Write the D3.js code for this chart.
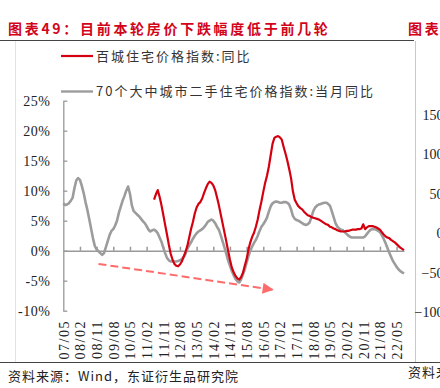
<!doctype html>
<html>
<head>
<meta charset="utf-8">
<title>图表49</title>
<script src="https://cdn.jsdelivr.net/npm/d3@7"></script>
<style>
  html, body { margin:0; padding:0; background:#fff; overflow:hidden }
  svg { display:block }
  .num { font-family: "Liberation Serif", "Times New Roman", serif; font-size:14px; fill:#222 }
  .cjk { font-family: "Noto Sans CJK SC", sans-serif; }
</style>
</head>
<body>
<div id="chart"></div>
<script>
// 70个大中城市二手住宅价格指数:当月同比 (%), monthly from 2007/05
var grayStart = "2007-05";
var grayValues = [
  7.9, 7.6, 7.7, 7.9, 8.3, 8.8, 10.4, 11.7, 12.1, 11.8, 10.8, 9.6,
  8.1, 6.8, 5.3, 3.7, 2.1, 0.8, 0.2, -0.1, -0.4, -0.7, -0.4, 0.6,
  1.6, 2.6, 3.3, 3.6, 4.2, 5.0, 6.3, 7.3, 8.3, 9.1, 10.0, 10.7,
  9.5, 7.6, 6.6, 6.3, 6.0, 5.7, 5.3, 4.9, 4.6, 4.1, 3.5, 3.2,
  3.4, 3.5, 3.3, 2.9, 2.2, 1.5, 0.5, -0.4, -1.2, -1.6, -1.8, -1.8,
  -1.8, -1.8, -1.7, -1.6, -1.4, -1.1, -0.5, 0.3, 0.9, 1.4, 2.0, 2.5,
  2.9, 3.2, 3.4, 3.6, 3.9, 4.3, 4.8, 5.0, 5.2, 5.0, 4.6, 4.0,
  3.5, 2.6, 1.6, 0.6, -0.5, -1.6, -2.5, -3.4, -4.1, -4.7, -5.1, -5.3,
  -4.8, -4.0, -3.1, -2.0, -0.9, 0.0, 0.7, 1.3, 1.8, 2.5, 3.3, 4.0,
  4.4, 4.9, 5.5, 6.5, 7.4, 7.9, 8.1, 8.2, 8.1, 8.0, 8.0, 8.1,
  8.1, 8.0, 7.7, 6.9, 5.8, 5.3, 5.1, 5.0, 4.8, 4.6, 4.4, 4.3,
  4.4, 4.7, 5.6, 6.6, 7.2, 7.5, 7.7, 7.8, 7.9, 8.0, 8.0, 7.8,
  7.5, 6.6, 5.6, 4.6, 4.0, 3.7, 3.5, 3.4, 3.1, 2.8, 2.5, 2.3,
  2.2, 2.2, 2.2, 2.2, 2.2, 2.2, 2.2, 2.4, 2.8, 3.2, 3.5, 3.6,
  3.6, 3.5, 3.3, 3.1, 2.6, 2.0, 1.3, 0.5, -0.3, -1.0, -1.7, -2.2,
  -2.7, -3.1, -3.4, -3.6, -3.8
];
// 百城住宅价格指数:同比 (%), monthly from 2011/06
var redStart = "2011-06";
var redValues = [
  8.5, 9.4, 10.1, 9.0, 7.6, 6.0, 4.3, 2.7, 1.0, -0.5, -1.5,
  -2.2, -2.5, -2.6, -2.3, -1.8, -1.0, -0.2, 0.8, 2.2, 3.6, 4.8, 6.2,
  7.2, 7.8, 8.1, 8.7, 9.6, 10.4, 11.1, 11.5, 11.3, 10.9, 10.1, 8.9,
  7.6, 6.1, 4.6, 3.1, 1.6, 0.0, -1.5, -2.8, -3.6, -4.2, -4.6, -4.8,
  -4.4, -3.7, -2.5, -1.4, 0.2, 1.4, 2.3, 3.0, 4.0, 5.2, 6.8, 8.2,
  9.8, 11.3, 12.5, 14.0, 15.9, 17.8, 18.8, 19.0, 19.1, 18.9, 18.5, 17.3,
  16.2, 15.0, 13.6, 12.1, 9.9, 8.5, 7.9, 7.4, 7.1, 6.9, 6.5, 6.2,
  5.9, 5.8, 5.6, 5.5, 5.4, 5.3, 5.2, 5.0, 4.8, 4.6, 4.4, 4.3,
  4.0, 3.9, 3.7, 3.6, 3.4, 3.3, 3.2, 3.2, 3.2, 3.3, 3.3, 3.4,
  3.5, 3.5, 3.5, 3.6, 3.6, 3.7, 4.4, 3.6, 3.9, 4.1, 4.1, 4.1,
  4.0, 3.9, 3.7, 3.5, 3.1, 2.7, 2.4, 2.2, 2.1, 1.8, 1.6, 1.4,
  1.1, 0.8, 0.5, 0.3, 0.1
];
var xLabels = ["07/05","08/02","08/11","09/08","10/05","11/02","11/11","12/08","13/05","14/02",
  "14/11","15/08","16/05","17/02","17/11","18/08","19/05","20/02","20/11","21/08","22/05"];
var yTicks = [-10, -5, 0, 5, 10, 15, 20, 25];
var seriesNames = ["百城住宅价格指数:同比", "70个大中城市二手住宅价格指数:当月同比"];
var seriesColors = ["#d40010", "#9c9c9c"];
// neighbouring chart, cut off at the right edge
var nextTicks = [150, 100, 50, 0, -50, -100];
// dashed trend arrow (category, value)
var trendFrom = ["08/12", -2.2];
var trendTo = ["16/10", -6.5];

var W = 440, H = 388;
var fmt = d3.timeFormat("%y/%m");
var parse = d3.timeParse("%Y-%m");

function months(start, n) {
  var s = parse(start);
  return d3.range(n).map(function(i) { return fmt(d3.timeMonth.offset(s, i)); });
}
var cats = months(grayStart, grayValues.length);
var grayData = cats.map(function(c, i) { return [c, grayValues[i]]; });
var redCats = months(redStart, redValues.length);
var redData = redCats.map(function(c, i) { return [c, redValues[i]]; });

var svg = d3.select("#chart").append("svg").attr("width", W).attr("height", H);

var x = d3.scalePoint().domain(cats).range([63.3, 404]);
var y = d3.scaleLinear().domain([-10, 25]).range([310.7, 100.7]);
var y2 = d3.scaleLinear().domain([-100, 150]).range([312, 115]);

// title
var titleStyle = function(t) {
  t.attr("class", "cjk").attr("font-size", 14).attr("font-weight", "bold")
   .attr("fill", "#d2041a").attr("letter-spacing", "2.7px");
};
svg.append("text").attr("x", 8).attr("y", 34).text("图表49：目前本轮房价下跌幅度低于前几轮").call(titleStyle);
svg.append("text").attr("x", 408).attr("y", 34).text("图表").call(titleStyle);

// frame lines
svg.append("line").attr("x1", 0).attr("x2", 414).attr("y1", 40.5).attr("y2", 40.5)
  .attr("stroke", "#444").attr("stroke-width", 1);
svg.append("line").attr("x1", 0).attr("x2", W).attr("y1", 362.5).attr("y2", 362.5)
  .attr("stroke", "#444").attr("stroke-width", 1);
svg.append("line").attr("x1", 415.5).attr("x2", 415.5).attr("y1", 41).attr("y2", 362)
  .attr("stroke", "#c8c8c8").attr("stroke-width", 1);
svg.append("line").attr("x1", 15.5).attr("x2", 15.5).attr("y1", 41).attr("y2", 362)
  .attr("stroke", "#e2e2e2").attr("stroke-width", 1);

// legend
var lg = svg.append("g");
seriesNames.forEach(function(name, i) {
  var ly = i === 0 ? 56 : 91.5;
  lg.append("line").attr("x1", 61).attr("x2", 93).attr("y1", ly).attr("y2", ly)
    .attr("stroke", seriesColors[i]).attr("stroke-width", i === 0 ? 2.2 : 2.4);
  lg.append("text").attr("class", "cjk").attr("x", 96).attr("y", ly).attr("dy", "0.36em")
    .attr("font-size", 13).attr("letter-spacing", "2px").attr("fill", "#333").text(name);
});

// left axis
var yAxis = svg.append("g").attr("transform", "translate(63.3,0)")
  .call(d3.axisLeft(y).tickValues(yTicks).tickSize(-4).tickSizeOuter(0).tickPadding(13)
    .tickFormat(function(d) { return d + "%"; }));
yAxis.selectAll("path, line").attr("stroke", "#999").attr("stroke-width", 1.3);
yAxis.selectAll("text").attr("class", "num").attr("font-size", null).attr("font-family", null)
  .attr("letter-spacing", "0.5px");

// zero line with upward ticks
var xAxis = svg.append("g").attr("transform", "translate(0," + y(0) + ")")
  .call(d3.axisBottom(x).tickValues(xLabels.slice(1)).tickSize(-4).tickSizeOuter(0).tickFormat(""));
xAxis.selectAll("path, line").attr("stroke", "#999").attr("stroke-width", 1.5);

// category labels, rotated, at the bottom
var xl = svg.append("g").attr("transform", "translate(0,320)")
  .call(d3.axisBottom(x).tickValues(xLabels).tickSize(0).tickPadding(0));
xl.select(".domain").remove();
xl.selectAll("text").attr("class", "num").attr("font-size", null).attr("font-family", null)
  .attr("letter-spacing", "1.5px")
  .attr("transform", "rotate(-90)").attr("text-anchor", "end")
  .attr("x", 0).attr("y", 0).attr("dy", "0.35em");

// next chart's axis labels (clipped)
var ra = svg.append("g").attr("transform", "translate(443.5,0)")
  .call(d3.axisLeft(y2).tickValues(nextTicks).tickSize(0).tickPadding(0));
ra.select(".domain").remove();
ra.selectAll("text").attr("class", "num").attr("font-size", null).attr("font-family", null);

// series
var line = d3.line().x(function(d) { return x(d[0]); }).y(function(d) { return y(d[1]); });
svg.append("path").datum(grayData).attr("d", line).attr("fill", "none")
  .attr("stroke", seriesColors[1]).attr("stroke-width", 2.6).attr("stroke-linejoin", "round");
svg.append("path").datum(redData).attr("d", line).attr("fill", "none")
  .attr("stroke", seriesColors[0]).attr("stroke-width", 2.2).attr("stroke-linejoin", "round");

// trend arrow
svg.append("defs").append("marker").attr("id", "ah")
  .attr("viewBox", "0 0 10 10").attr("refX", 9).attr("refY", 5)
  .attr("markerWidth", 12).attr("markerHeight", 11).attr("markerUnits", "userSpaceOnUse")
  .attr("orient", "auto")
  .append("path").attr("d", "M0,0L10,5L0,10Z").attr("fill", "#ff6b6b");
svg.append("line")
  .attr("x1", x(trendFrom[0])).attr("y1", y(trendFrom[1]))
  .attr("x2", x(trendTo[0])).attr("y2", y(trendTo[1]))
  .attr("stroke", "#ff6b6b").attr("stroke-width", 2).attr("stroke-dasharray", "8,4")
  .attr("marker-end", "url(#ah)");

// source
svg.append("text").attr("class", "cjk").attr("x", 8).attr("y", 381)
  .attr("font-size", 13).attr("letter-spacing", "1px").attr("fill", "#222")
  .text("资料来源：Wind，东证衍生品研究院");
svg.append("text").attr("class", "cjk").attr("x", 408).attr("y", 377)
  .attr("font-size", 13).attr("letter-spacing", "1px").attr("fill", "#222")
  .text("资料来源");
</script>
</body>
</html>
